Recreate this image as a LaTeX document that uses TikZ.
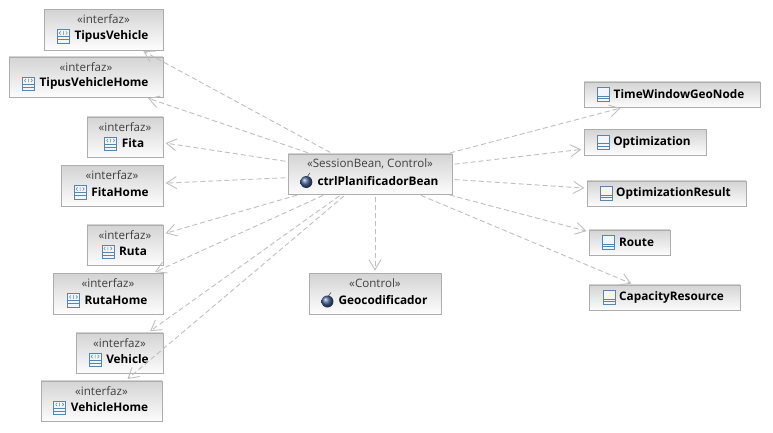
\documentclass[tikz,border=0pt]{standalone}
\usepackage{fontspec}
\setmainfont{Open Sans}
\usetikzlibrary{calc,arrows.meta}
\definecolor{icoblue}{RGB}{88,132,176}
\definecolor{bombblue}{RGB}{70,100,150}

\begin{document}
\begin{tikzpicture}[x=1pt,y=-1pt,
    boxnode/.style={draw=black!32,top color=black!17,bottom color=black!1,inner sep=0pt,minimum height=#1},
    stereo/.style={font=\fontsize{11.6}{13}\selectfont,text=black!75,inner sep=0pt},
    title/.style={font=\fontsize{11.8}{13}\selectfont\bfseries,inner sep=0pt},
    dep/.style={draw=black!25,dash pattern=on 5pt off 3pt,line width=.9pt,
      -{Straight Barb[length=10pt,width=12pt,black!25]},shorten >=2.5pt,shorten <=2.5pt},
    icoline/.style={draw=icoblue,line width=.8pt},
    iface/.pic={
      \draw[icoline,fill=icoblue!8] (-6,-6.5) rectangle (6,7);
      \draw[icoline] (-6,0.5) -- (6,0.5) (-6,3.8) -- (6,3.8);
      \draw[icoline,line width=.5pt] (-2.5,-4.6) -- (-4,-3) -- (-2.5,-1.4) (2.5,-4.6) -- (4,-3) -- (2.5,-1.4) (0,-4.8) -- (0,-1.2);
    },
    klass/.pic={
      \draw[icoline,fill=icoblue!8] (-6,-7) rectangle (6,7);
      \draw[icoline] (-6,1.5) -- (6,1.5) (-6,4.2) -- (6,4.2);
    },
    bomb/.pic={
      \shade[ball color=bombblue] (0,1) circle (6);
      \draw[black!70,line width=.6pt] (1,-4.5) -- (3.5,-8);
    }]

  %% Fix the page size
  \useasboundingbox[fill=white] (0,0) rectangle (773,433);

  %% Boxes with a stereotype: name/center x/center y/width
  \foreach \nm/\cx/\cy/\bw in {TipusVehicle/103.5/29.5/119, TipusVehicleHome/86/77/154,
      Fita/125/137/76, FitaHome/112/185.5/102, Ruta/125/245/76, RutaHome/108/293.5/110,
      Vehicle/119.5/353/87, VehicleHome/101.5/401/121}{
    \node[boxnode=40.5pt,minimum width=\bw pt] (\nm) at (\cx,\cy) {};
    \node[stereo] (\nm-s) at ($(\nm.center)+(0,-10)$) {«interfaz»};
    \node[title] (\nm-t) at ($(\nm.center)+(8,6.5)$) {\nm};
    \pic at ($(\nm-t.west)+(-11,0)$) {iface};
  }

  %% The session bean and the control
  \node[boxnode=40.5pt,minimum width=164pt] (ctrlPlanificadorBean) at (370,174) {};
  \node[stereo] (ctrlPlanificadorBean-s) at ($(ctrlPlanificadorBean.center)+(0,-10)$) {«SessionBean, Control»};
  \node[title] (ctrlPlanificadorBean-t) at ($(ctrlPlanificadorBean.center)+(8,7)$) {ctrlPlanificadorBean};
  \pic at ($(ctrlPlanificadorBean-t.west)+(-11,0)$) {bomb};

  \node[boxnode=40.5pt,minimum width=132pt] (Geocodificador) at (375,293.5) {};
  \node[stereo] (Geocodificador-s) at ($(Geocodificador.center)+(0,-10)$) {«Control»};
  \node[title] (Geocodificador-t) at ($(Geocodificador.center)+(8,7)$) {Geocodificador};
  \pic at ($(Geocodificador-t.west)+(-11,0)$) {bomb};

  %% Boxes on the right
  \foreach \nm/\cx/\cy/\bw in {TimeWindowGeoNode/672/94.5/176, Optimization/645/142/122,
      OptimizationResult/666.5/193.5/159, Route/629.5/242.5/81, CapacityResource/664.5/297.5/151}{
    \node[boxnode=25.5pt,minimum width=\bw pt] (\nm) at (\cx,\cy) {};
    \node[title] (\nm-t) at ($(\nm.center)+(7,0)$) {\nm};
    \pic at ($(\nm-t.west)+(-10,0)$) {klass};
  }

  %% Dependencies
  \foreach \nm in {TipusVehicle,TipusVehicleHome,Fita,FitaHome,Ruta,RutaHome,Vehicle,VehicleHome,
      TimeWindowGeoNode,Optimization,OptimizationResult,Route,CapacityResource}{
    \draw[dep] (ctrlPlanificadorBean) -- (\nm);
  }
  \draw[dep] (ctrlPlanificadorBean.south -| Geocodificador) -- (Geocodificador);
\end{tikzpicture}
\end{document}
